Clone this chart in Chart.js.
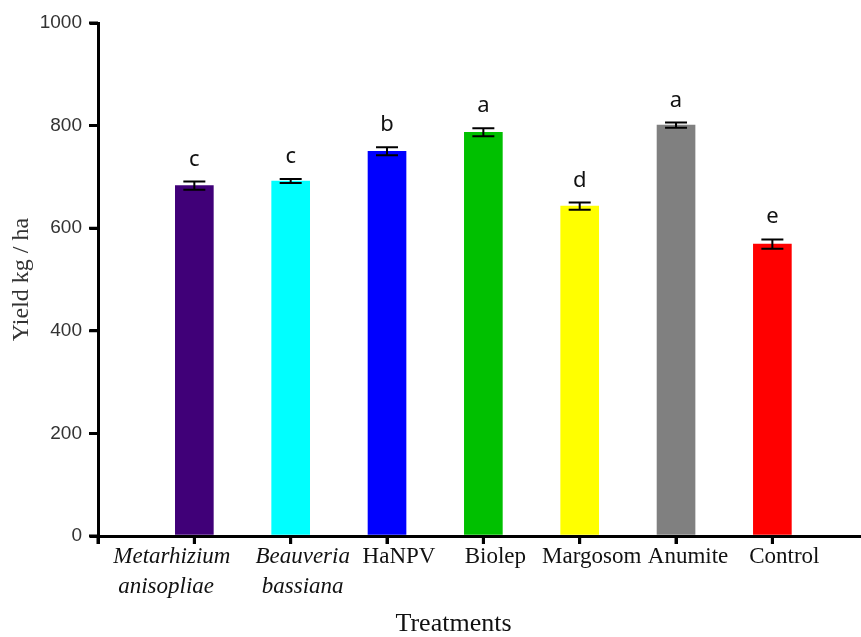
<!DOCTYPE html>
<html>
<head>
<meta charset="utf-8">
<script src="https://cdn.jsdelivr.net/npm/chart.js@4.4.1/dist/chart.umd.min.js"></script>
<style>
  html, body { margin: 0; padding: 0; background: #fff; }
  #wrap { width: 861px; height: 637px; }
</style>
</head>
<body>
<div id="wrap"><canvas id="chart"></canvas></div>
<script>
// Data
var treatments = [['Metarhizium', 'anisopliae'], ['Beauveria', 'bassiana'], 'HaNPV', 'Biolep', 'Margosom', 'Anumite', 'Control'];
var yieldMean = [683, 692, 750, 787, 643, 801, 569];
var yieldErr = [8, 4, 8, 8, 7, 5, 9];
var groupLetters = ['c', 'c', 'b', 'a', 'd', 'a', 'e'];
var barColors = ['#400078', '#00FFFF', '#0000FF', '#00C000', '#FFFF00', '#808080', '#FF0000'];

var EM = '\u2003';

// error bars and letters on top of each bar, plus axis tick marks
const errorBars = {
  id: 'errorBars',
  afterDatasetsDraw(chart) {
    var ctx = chart.ctx;
    var y = chart.scales.y;
    var x = chart.scales.x;
    var meta = chart.getDatasetMeta(0);
    ctx.save();
    meta.data.forEach((bar, i) => {
      var top = y.getPixelForValue(yieldMean[i] + yieldErr[i]);
      var bot = y.getPixelForValue(yieldMean[i] - yieldErr[i]);
      ctx.strokeStyle = '#000';
      ctx.lineWidth = 2;
      ctx.beginPath();
      ctx.moveTo(bar.x, top); ctx.lineTo(bar.x, bot);
      ctx.moveTo(bar.x - 11, top); ctx.lineTo(bar.x + 11, top);
      ctx.moveTo(bar.x - 11, bot); ctx.lineTo(bar.x + 11, bot);
      ctx.stroke();

      ctx.fillStyle = '#111';
      ctx.font = '22px "Noto Sans"';
      ctx.textAlign = 'center';
      ctx.textBaseline = 'alphabetic';
      ctx.fillText(groupLetters[i], bar.x, top - 16);
    });

    // tick marks outside the axes
    ctx.strokeStyle = '#000';
    ctx.lineWidth = 3;
    ctx.beginPath();
    y.ticks.forEach(t => {
      var py = y.getPixelForValue(t.value);
      ctx.moveTo(x.left - 9, py); ctx.lineTo(x.left, py);
    });
    x.ticks.forEach(t => {
      var px = x.getPixelForValue(t.value);
      ctx.moveTo(px, y.bottom); ctx.lineTo(px, y.bottom + 8);
    });
    ctx.stroke();
    ctx.restore();
  }
};

new Chart(document.getElementById('chart'), {
  type: 'bar',
  data: {
    datasets: [{
      data: yieldMean.map((v, i) => ({ x: i, y: v })),
      backgroundColor: barColors,
      barThickness: 38
    }]
  },
  options: {
    responsive: true,
    maintainAspectRatio: false,
    animation: false,
    layout: { padding: { top: 23, right: 0, left: 0, bottom: 0 } },
    plugins: { legend: { display: false }, tooltip: { enabled: false } },
    scales: {
      x: {
        type: 'linear',
        offset: false,
        min: -1,
        max: 6.92,
        afterFit: s => { s.height = 101; },
        grid: { offset: false, drawOnChartArea: false, drawTicks: true, tickLength: 8, color: '#000', lineWidth: 3 },
        border: { color: '#000', width: 3 },
        ticks: {
          stepSize: 1,
          autoSkip: false,
          includeBounds: false,
          maxRotation: 0,
          padding: -2,
          labelOffset: 12,
          color: '#111',
          font: c => ({ family: '"Liberation Serif", serif', size: 23, lineHeight: 1.3,
            style: (c.tick && c.tick.value <= 1) ? 'italic' : 'normal' }),
          callback: v => {
            var t = treatments[v];
            if (v < 0 || t === undefined) return '';
            // first label sits left of its tick in the original
            if (v === 0) return [t[0] + EM + EM + EM, t[1] + EM + EM + EM + '\u2002'];
            return t;
          }
        },
        title: {
          display: true,
          text: 'Treatments' + EM + EM,
          color: '#111',
          padding: { top: 0, bottom: 0 },
          font: { family: '"Liberation Serif", serif', size: 26, lineHeight: 1 }
        }
      },
      y: {
        min: 0,
        max: 1000,
        afterFit: s => { s.width = 98; },
        grid: { drawOnChartArea: false, drawTicks: true, tickLength: 8, color: '#000', lineWidth: 3 },
        border: { color: '#000', width: 3 },
        ticks: {
          stepSize: 200,
          padding: 8,
          color: '#333',
          font: { family: '"Liberation Sans", Arial, sans-serif', size: 19 },
          callback: v => String(v)
        },
        title: {
          display: true,
          text: 'Yield kg / ha',
          color: '#333',
          padding: { top: 7, bottom: 0 },
          font: { family: '"Liberation Serif", serif', size: 24 }
        }
      }
    }
  },
  plugins: [errorBars]
});
</script>
</body>
</html>
